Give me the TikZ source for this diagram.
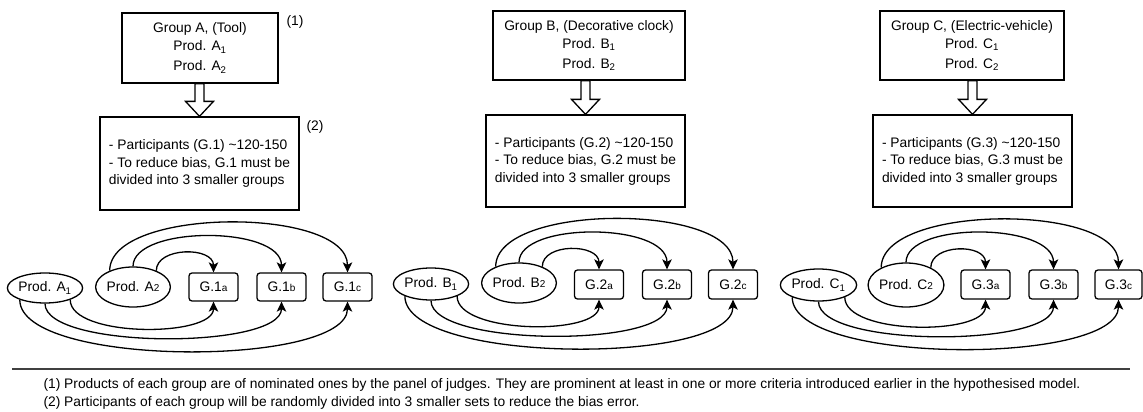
\documentclass[tikz,border=0pt]{standalone}
\usepackage{fontspec}
\setmainfont{Liberation Sans}
\usetikzlibrary{arrows.meta,shapes.geometric}
\newcommand\sm[1]{{\fontsize{10}{10}\selectfont #1}}
\tikzset{
  every node/.style={font=\fontsize{13.8}{18}\selectfont, text=black},
  topbox/.style={draw, line width=1.3pt, minimum width=#1, minimum height=69pt, align=center, inner sep=0pt},
  midbox/.style={draw, line width=1.3pt, minimum width=199pt, minimum height=92pt, align=left, inner sep=0pt, font=\fontsize{13.8}{17.5}\selectfont},
  prod/.style={draw, ellipse, line width=1.3pt, minimum width=72pt, minimum height=#1, inner sep=0pt},
  grp/.style={draw, rectangle, rounded corners=3pt, line width=1.3pt, minimum width=49pt, minimum height=28pt, inner sep=0pt},
  conn/.style={line width=1.3pt, -{Stealth[length=10pt,width=9.5pt,inset=2.5pt]}},
  blk/.style={line width=1.3pt, fill=white, line join=miter},
  note/.style={anchor=base west, font=\fontsize{13.8}{16}\selectfont},
}
\newcommand\links[5]{%
  \draw[conn] (#2.35) .. controls +(0,-24) and +(0,-26) .. (#3.north);
  \draw[conn] (#2.north) .. controls +(0,-41) and +(0,-47) .. (#4.north);
  \draw[conn] (#2.145) .. controls +(0,-64) and +(0,-66) .. (#5.north);
  \draw[conn] (#1.-25) .. controls +(0,38) and +(0,36) .. (#3.south);
  \draw[conn] (#1.south) .. controls +(0,46) and +(0,48) .. (#4.south);
  \draw[conn] (#1.205) .. controls +(0,68) and +(0,66) .. (#5.south);
}
\newcommand\blockarrow[3]{%
  \coordinate (#3) at (#2.north |- #1.south);
  \draw[blk] ([xshift=-4.5pt]#3) -- ([xshift=4.5pt]#3) -- ([xshift=4.5pt,yshift=15pt]#2.north)
    -- ([xshift=14pt,yshift=15pt]#2.north) -- (#2.north) -- ([xshift=-14pt,yshift=15pt]#2.north)
    -- ([xshift=-4.5pt,yshift=15pt]#2.north) -- cycle;
}
\begin{document}
\begin{tikzpicture}[x=1pt,y=-1pt]
\useasboundingbox (0,0) rectangle (1143,412);

% ---------- Panel A ----------
\node[topbox=156pt, minimum height=70pt] (tA) at (200,48) {Group A, (Tool)\\Prod. A\textsubscript{1}\\[2pt]Prod. A\textsubscript{2}};
\node (n1) at (295,22) {(1)};
\node[midbox, minimum height=93pt] (mA) at (199.5,163.5) {- Participants (G.1) \textasciitilde120-150\\- To reduce bias, G.1 must be\\divided into 3 smaller groups};
\node (n2) at (315,127) {(2)};
\blockarrow{tA}{mA}{aA}
\node[prod=30pt] (pA1) at (45,288) {Prod. A\textsubscript{1}};
\node[prod=40pt, minimum width=74pt] (pA2) at (133,287) {Prod. A\sm{2}};
\node[grp] (g1a) at (213.5,287) {G.1\sm{a}};
\node[grp] (g1b) at (281.5,287) {G.1\sm{b}};
\node[grp] (g1c) at (347.5,287) {G.1\sm{c}};
\links{pA1}{pA2}{g1a}{g1b}{g1c}

% ---------- Panel B ----------
\node[topbox=192pt] (tB) at (589,45.5) {Group B, (Decorative clock)\\Prod. B\textsubscript{1}\\[2pt]Prod. B\textsubscript{2}};
\node[midbox] (mB) at (585.5,161) {- Participants (G.2) \textasciitilde120-150\\- To reduce bias, G.2 must be\\divided into 3 smaller groups};
\blockarrow{tB}{mB}{aB}
\node[prod=32pt] (pB1) at (431,284) {Prod. B\textsubscript{1}};
\node[prod=40pt] (pB2) at (519,283) {Prod. B\sm{2}};
\node[grp, minimum height=29pt] (g2a) at (599,284.5) {G.2\sm{a}};
\node[grp, minimum height=29pt] (g2b) at (667,284.5) {G.2\sm{b}};
\node[grp, minimum height=29pt] (g2c) at (733,284.5) {G.2\sm{c}};
\links{pB1}{pB2}{g2a}{g2b}{g2c}

% ---------- Panel C ----------
\node[topbox=184pt] (tC) at (972,45.5) {Group C, (Electric-vehicle)\\Prod. C\textsubscript{1}\\[2pt]Prod. C\textsubscript{2}};
\node[midbox] (mC) at (972.5,161) {- Participants (G.3) \textasciitilde120-150\\- To reduce bias, G.3 must be\\divided into 3 smaller groups};
\blockarrow{tC}{mC}{aC}
\node[prod=32pt, minimum width=73pt] (pC1) at (818.5,285) {Prod. C\textsubscript{1}};
\node[prod=44pt] (pC2) at (906,285) {Prod. C\sm{2}};
\node[grp, minimum height=29pt] (g3a) at (985.5,284.5) {G.3\sm{a}};
\node[grp, minimum height=29pt] (g3b) at (1053.5,284.5) {G.3\sm{b}};
\node[grp, minimum height=29pt, minimum width=47pt] (g3c) at (1118.5,284.5) {G.3\sm{c}};
\links{pC1}{pC2}{g3a}{g3b}{g3c}

% ---------- Footnotes ----------
\coordinate (rl) at (12,369);
\coordinate (rr) at (1130,369);
\draw[line width=2pt, black!75] (rl) -- (rr);
\node[note] (f1) at (40,388) {(1) Products of each group are of nominated ones by the panel of judges. They are prominent at least in one or more criteria introduced earlier in the hypothesised model.};
\node[note] (f2) at (40,406) {(2) Participants of each group will be randomly divided into 3 smaller sets to reduce the bias error.};
\end{tikzpicture}
\end{document}
